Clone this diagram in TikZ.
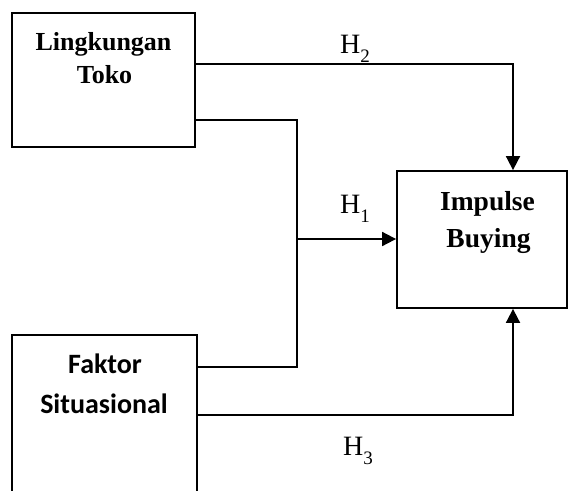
\documentclass[tikz,border=0pt]{standalone}
\usepackage{fontspec}
\setmainfont{Liberation Serif}
\newfontfamily\carlitofont{Carlito}
\usetikzlibrary{arrows.meta}
\newcommand{\hlab}[1]{H\raisebox{-9pt}{\fontsize{19}{19}\selectfont #1}}
\begin{document}
\begin{tikzpicture}[x=1pt,y=-1pt,
  box/.style={draw,line width=1.8pt,minimum width=#1,inner sep=0pt},
  serifbold/.style={font=\fontsize{26}{30}\selectfont\bfseries,anchor=base,inner sep=0pt},
  bigserifbold/.style={font=\fontsize{27.5}{30}\selectfont\bfseries,anchor=base,inner sep=0pt},
  sansbold/.style={font=\carlitofont\fontsize{28}{32}\selectfont\bfseries,anchor=base,inner sep=0pt},
  hyp/.style={font=\fontsize{28}{30}\selectfont,anchor=base west,inner sep=0pt},
  conn/.style={line width=1.8pt},
  arr/.style={conn,-{Triangle[length=14pt,width=14pt]}}]
\useasboundingbox (0,0) rectangle (569,490);
\clip (0,0) rectangle (569,490);
% boxes
\node[box=183pt,minimum height=134pt] (lt) at (103.5,80) {};
\node[box=170pt,minimum height=137pt] (ib) at (482,239.5) {};
\node[box=185pt,minimum height=180pt] (fs) at (104.5,425) {};
% texts
\node[serifbold] (lt1) at (103.5,50) {Lingkungan};
\node[serifbold] (lt2) at (104.5,83) {Toko};
\node[bigserifbold] (ib1) at (487.5,210) {Impulse};
\node[bigserifbold] (ib2) at (488.5,247) {Buying};
\node[sansbold] (fs1) at (105,373) {Faktor};
\node[sansbold] (fs2) at (104,413) {Situasional};
% junctions
\coordinate (j1) at (297,120);
\coordinate (j2) at (297,367);
\coordinate (j3) at (297,239);
\coordinate (c2) at (513,64);
\coordinate (c3) at (513,415);
% connectors
\draw[arr] (lt.east |- c2) -- (c2) -- (c2 |- ib.north);
\draw[conn] (lt.east |- j1) -- (j1) -- (j2) -- (fs.east |- j2);
\draw[arr] (j3) -- (ib.west |- j3);
\draw[arr] (fs.east |- c3) -- (c3) -- (c3 |- ib.south);
% labels
\node[hyp] (h2) at (340,53) {\hlab{2}};
\node[hyp] (h1) at (340,213) {\hlab{1}};
\node[hyp] (h3) at (343,455) {\hlab{3}};
\end{tikzpicture}
\end{document}
